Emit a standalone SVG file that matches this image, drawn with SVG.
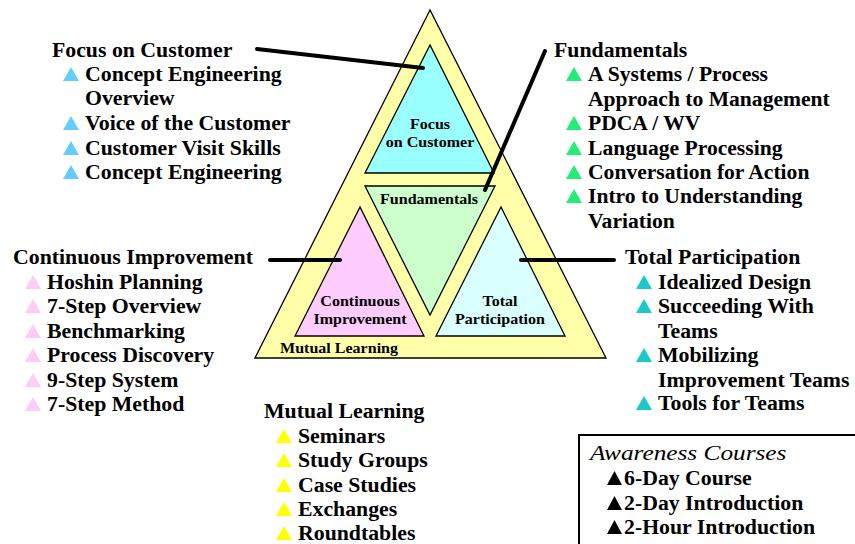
<svg xmlns="http://www.w3.org/2000/svg" xmlns:xlink="http://www.w3.org/1999/xlink" width="855" height="544" viewBox="0 0 855 544">
<style>
.t{font-family:"Liberation Serif","Times New Roman",serif;font-weight:bold;font-size:20px;fill:#000}
.s{font-family:"Liberation Serif","Times New Roman",serif;font-weight:bold;font-size:15px;fill:#000}
.i{font-family:"Liberation Serif","Times New Roman",serif;font-style:italic;font-size:22px;fill:#000}
.tri{stroke:#000;stroke-width:1.3;stroke-linejoin:miter}
.ln{stroke:#000;stroke-width:4;stroke-linecap:round;fill:none}
</style>
<defs>
<path id="b" d="M0,0 L16,0 L8,-14 Z"/>
<path id="k" d="M0,0 L15,0 L7.5,-14 Z"/>
</defs>
<rect width="855" height="544" fill="#fff"/>
<g id="pyramid">
<polygon class="tri" points="430,10 255,358 606,358" fill="#ffffaa"/>
<text class="s" transform="translate(280 353) scale(1.07 1)">Mutual Learning</text>
</g>
<g id="focus-node">
<polygon class="tri" points="430,45 365,173 494,173" fill="#99ffff"/>
<text class="s" text-anchor="middle" transform="translate(430 129) scale(1.07 1)">Focus</text>
<text class="s" text-anchor="middle" transform="translate(430 147) scale(1.07 1)">on Customer</text>
</g>
<g id="fundamentals-node">
<polygon class="tri" points="365,186 495,186 430,315" fill="#ccffcc"/>
<text class="s" text-anchor="middle" transform="translate(429 204) scale(1.07 1)">Fundamentals</text>
</g>
<g id="continuous-node">
<polygon class="tri" points="360,207 295,336 424,336" fill="#ffccff"/>
<text class="s" text-anchor="middle" transform="translate(360 306) scale(1.07 1)">Continuous</text>
<text class="s" text-anchor="middle" transform="translate(360 324) scale(1.07 1)">Improvement</text>
</g>
<g id="total-node">
<polygon class="tri" points="501,207 436,336 565,336" fill="#d9ffff"/>
<text class="s" text-anchor="middle" transform="translate(500 306) scale(1.07 1)">Total</text>
<text class="s" text-anchor="middle" transform="translate(500 324) scale(1.07 1)">Participation</text>
</g>
<g id="connectors">
<line class="ln" x1="257" y1="49" x2="423" y2="68"/>
<line class="ln" x1="545" y1="51" x2="485" y2="190"/>
<line class="ln" x1="270" y1="260" x2="340" y2="260"/>
<line class="ln" x1="521" y1="260" x2="614" y2="260"/>
</g>
<g id="focus-list">
<g transform="translate(52 0) scale(1.09 1)"><text class="t" x="0" y="57">Focus on Customer</text></g>
<g fill="#66ccff">
<use xlink:href="#b" x="63" y="81"/>
<use xlink:href="#b" x="63" y="130"/>
<use xlink:href="#b" x="63" y="155"/>
<use xlink:href="#b" x="63" y="179"/>
</g>
<g transform="translate(85 0) scale(1.09 1)">
<text class="t" x="0" y="81">Concept Engineering</text>
<text class="t" x="0" y="105">Overview</text>
<text class="t" x="0" y="130">Voice of the Customer</text>
<text class="t" x="0" y="155">Customer Visit Skills</text>
<text class="t" x="0" y="179">Concept Engineering</text>
</g>
</g>
<g id="fundamentals-list">
<g transform="translate(554 0) scale(1.09 1)"><text class="t" x="0" y="57">Fundamentals</text></g>
<g fill="#22ee77">
<use xlink:href="#b" x="566" y="81"/>
<use xlink:href="#b" x="566" y="130"/>
<use xlink:href="#b" x="566" y="155"/>
<use xlink:href="#b" x="566" y="179"/>
<use xlink:href="#b" x="566" y="203"/>
</g>
<g transform="translate(588 0) scale(1.08 1)">
<text class="t" x="0" y="81">A Systems / Process</text>
<text class="t" x="0" y="106">Approach to Management</text>
<text class="t" x="0" y="130">PDCA / WV</text>
<text class="t" x="0" y="155">Language Processing</text>
<text class="t" x="0" y="179">Conversation for Action</text>
<text class="t" x="0" y="203">Intro to Understanding</text>
<text class="t" x="0" y="228">Variation</text>
</g>
</g>
<g id="continuous-list">
<g transform="translate(13 0) scale(1.09 1)"><text class="t" x="0" y="264">Continuous Improvement</text></g>
<g fill="#ffccf5">
<use xlink:href="#b" x="25" y="289"/>
<use xlink:href="#b" x="25" y="313"/>
<use xlink:href="#b" x="25" y="338"/>
<use xlink:href="#b" x="25" y="362"/>
<use xlink:href="#b" x="25" y="387"/>
<use xlink:href="#b" x="25" y="411"/>
</g>
<g transform="translate(47 0) scale(1.09 1)">
<text class="t" x="0" y="289">Hoshin Planning</text>
<text class="t" x="0" y="313">7-Step Overview</text>
<text class="t" x="0" y="338">Benchmarking</text>
<text class="t" x="0" y="362">Process Discovery</text>
<text class="t" x="0" y="387">9-Step System</text>
<text class="t" x="0" y="411">7-Step Method</text>
</g>
</g>
<g id="total-list">
<g transform="translate(625 0) scale(1.09 1)"><text class="t" x="0" y="264">Total Participation</text></g>
<g fill="#1cc8c8">
<use xlink:href="#b" x="636" y="289"/>
<use xlink:href="#b" x="636" y="313"/>
<use xlink:href="#b" x="636" y="362"/>
<use xlink:href="#b" x="636" y="410"/>
</g>
<g transform="translate(658 0) scale(1.09 1)">
<text class="t" x="0" y="289">Idealized Design</text>
<text class="t" x="0" y="313">Succeeding With</text>
<text class="t" x="0" y="338">Teams</text>
<text class="t" x="0" y="362">Mobilizing</text>
<text class="t" x="0" y="387">Improvement Teams</text>
<text class="t" x="0" y="410">Tools for Teams</text>
</g>
</g>
<g id="mutual-list">
<g transform="translate(264 0) scale(1.09 1)"><text class="t" x="0" y="418">Mutual Learning</text></g>
<g fill="#ffff00">
<use xlink:href="#b" x="276" y="443"/>
<use xlink:href="#b" x="276" y="467"/>
<use xlink:href="#b" x="276" y="492"/>
<use xlink:href="#b" x="276" y="516"/>
<use xlink:href="#b" x="276" y="540"/>
</g>
<g transform="translate(298 0) scale(1.09 1)">
<text class="t" x="0" y="443">Seminars</text>
<text class="t" x="0" y="467">Study Groups</text>
<text class="t" x="0" y="492">Case Studies</text>
<text class="t" x="0" y="516">Exchanges</text>
<text class="t" x="0" y="540">Roundtables</text>
</g>
</g>
<g id="awareness">
<rect x="579" y="435" width="290" height="130" fill="#fff" stroke="#000" stroke-width="2"/>
<g transform="translate(590 0) scale(1.15 1)"><text class="i" x="0" y="460">Awareness Courses</text></g>
<g fill="#000">
<use xlink:href="#k" x="607" y="485"/>
<use xlink:href="#k" x="607" y="510"/>
<use xlink:href="#k" x="607" y="534"/>
</g>
<g transform="translate(624 0) scale(1.09 1)">
<text class="t" x="0" y="485">6-Day Course</text>
<text class="t" x="0" y="510">2-Day Introduction</text>
<text class="t" x="0" y="534">2-Hour Introduction</text>
</g>
</g>
</svg>
